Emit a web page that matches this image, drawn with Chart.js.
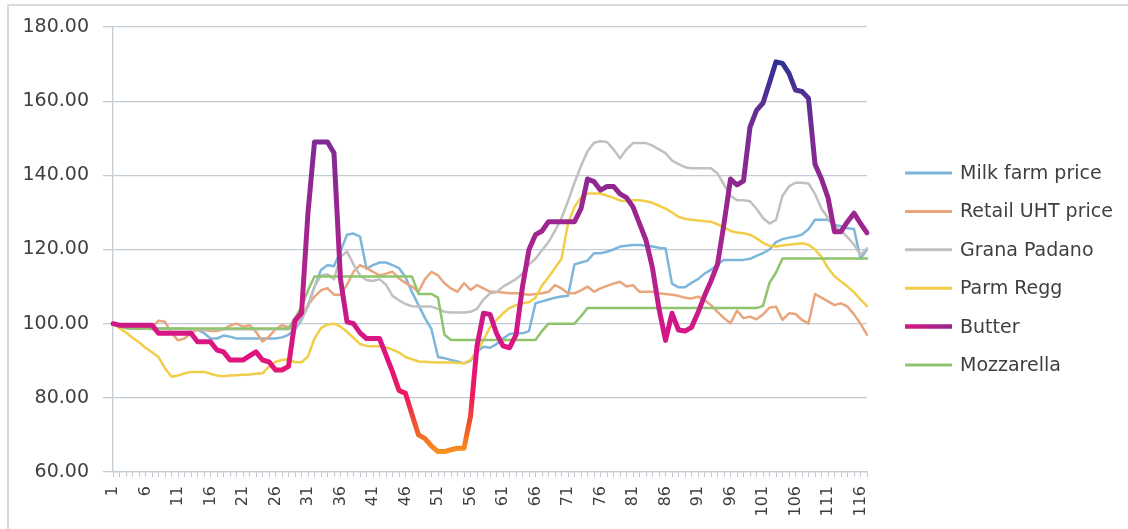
<!DOCTYPE html>
<html>
<head>
<meta charset="utf-8">
<title>Dairy price indices</title>
<script src="https://cdn.jsdelivr.net/npm/chart.js@4.4.1/dist/chart.umd.min.js"></script>
<style>
    html, body { margin: 0; padding: 0; background: #ffffff; }
    #wrap { width: 1128px; height: 529px; position: relative; }
</style>
</head>
<body>
<div id="wrap"><canvas id="priceChart" width="1128" height="529"></canvas></div>
<script>
// Monthly index values (period 1 = 100)
const periods = Array.from({ length: 117 }, (_, i) => String(i + 1));
const shownTicks = ['1', '6', '11', '16', '21', '26', '31', '36', '41', '46', '51', '56', '61', '66', '71', '76', '81', '86', '91', '96', '101', '106', '111', '116'];
const yTickValues = [60, 80, 100, 120, 140, 160, 180];

const milkFarmPrice = [
    100, 99.3, 98.8, 98.7, 98.7, 98.7, 98.7, 98.7, 98.6, 98.6,
    98.6, 98.6, 98.5, 98.3, 97.5, 96, 96, 96.8, 96.5, 96,
    96, 96, 96, 96, 96, 96, 96.3, 97, 98.5, 101,
    105, 110, 114.5, 115.8, 115.5, 119.5, 124, 124.3, 123.5, 114.8,
    115.8, 116.5, 116.5, 115.8, 115, 112.5, 108.5, 105, 101.5, 98.5,
    91, 90.7, 90.2, 89.8, 89.3, 90, 92.5, 93.8, 93.5, 94.5,
    96, 97.2, 97.4, 97.4, 98, 105.5, 106, 106.5, 107, 107.3,
    107.5, 116, 116.5, 117, 119, 119, 119.4, 120, 120.8, 121,
    121.2, 121.2, 121, 120.8, 120.5, 120.3, 110.8, 109.8, 109.8, 111,
    112, 113.5, 114.5, 116, 117.2, 117.2, 117.2, 117.2, 117.5, 118.3,
    119, 120, 122, 122.8, 123.2, 123.5, 124, 125.5, 128, 128,
    128, 126.6, 126.3, 125.7, 125.5, 117.6, 120
];

const retailUhtPrice = [
    100, 99.3, 99, 99, 99, 99, 99, 100.8, 100.5, 97.5,
    95.5, 96, 97.5, 98.3, 98.3, 98, 98, 98.5, 99.5, 100,
    99.2, 99.6, 97.8, 95.2, 96.5, 98.5, 99.6, 99, 100, 102,
    105, 107.3, 109, 109.6, 107.8, 107.8, 110.5, 114, 115.8, 115,
    114, 113, 113.5, 114, 112.2, 111, 110, 108.6, 112, 114,
    113, 110.9, 109.5, 108.6, 110.9, 109.1, 110.4, 109.5, 108.6, 108.6,
    108.4, 108.2, 108.2, 108, 107.8, 108, 108.2, 108.6, 110.4, 109.5,
    108.2, 108.2, 109, 110, 108.6, 109.5, 110.2, 110.8, 111.3, 110,
    110.4, 108.6, 108.6, 108.6, 108.2, 108, 107.8, 107.5, 107, 106.8,
    107.3, 106.4, 105, 103.2, 101.5, 100.1, 103.5, 101.5, 101.9, 101.2,
    102.5, 104.3, 104.6, 101, 102.8, 102.6, 101, 100, 108, 107,
    106, 105, 105.5, 104.6, 102.5, 100, 97
];

const granaPadano = [
    100, 99.3, 98.8, 98.7, 98.6, 98.6, 98.5, 98.5, 98.5, 98.5,
    98.5, 98.5, 98.5, 98.5, 98.5, 98.5, 98.5, 98.5, 98.5, 98.5,
    98.5, 98.5, 98.5, 98.5, 98.5, 98.5, 98.5, 98.5, 99, 101.5,
    104.5, 110, 113, 113.3, 112, 118, 119.5, 116, 113, 111.8,
    111.5, 112, 110.5, 107.5, 106.3, 105.3, 104.7, 104.6, 104.6, 104.6,
    104, 103.2, 103, 103, 103, 103.2, 104, 106.5, 108.2, 108.5,
    110, 111, 112, 113.5, 116, 117.5, 119.8, 122, 125, 128.5,
    133, 138, 142.5, 146.5, 148.8, 149.2, 149, 147, 144.6, 147,
    148.7, 148.7, 148.7, 148, 147, 146, 144, 143, 142.2, 141.9,
    141.9, 141.9, 141.9, 140.5, 137.5, 134.5, 133.3, 133.3, 133, 131,
    128.5, 127, 128, 134.5, 137, 138, 138, 137.8, 135, 131,
    128.5, 126.5, 125, 123.3, 121.3, 118.5, 120.3
];

const parmRegg = [
    100, 98.8, 97.6, 96.2, 95, 93.5, 92.3, 91, 88, 85.7,
    86, 86.6, 87, 87, 87, 86.5, 86, 85.8, 86, 86.1,
    86.2, 86.3, 86.5, 86.6, 88.4, 89.7, 90.2, 90.4, 89.6, 89.6,
    91.2, 96, 98.8, 99.8, 100, 99.2, 97.8, 96.2, 94.5, 94,
    93.9, 93.9, 93.6, 93, 92.2, 91, 90.4, 89.8, 89.7, 89.6,
    89.5, 89.5, 89.5, 89.4, 89.3, 90.2, 92.5, 95.6, 99, 101,
    102.8, 104.2, 105, 105.5, 105.8, 107, 110.3, 112.5, 115, 117.5,
    127, 131.5, 134, 135.1, 135.1, 135.1, 134.5, 134, 133.2, 133,
    133.3, 133.3, 133, 132.6, 131.8, 131, 130, 128.8, 128.3, 128,
    127.8, 127.6, 127.5, 126.8, 126, 125, 124.6, 124.4, 124, 123,
    121.8, 121, 120.8, 121.1, 121.3, 121.5, 121.7, 121.3, 120, 118,
    115, 112.8, 111.4, 110, 108.5, 106.5, 104.7
];

const butter = [
    100, 99.6, 99.6, 99.6, 99.6, 99.6, 99.6, 97.4, 97.4, 97.4,
    97.4, 97.4, 97.4, 95.1, 95.1, 95.1, 92.9, 92.4, 90.2, 90.2,
    90.2, 91.3, 92.4, 90.2, 89.7, 87.5, 87.5, 88.5, 100.9, 102.8,
    130, 149, 149, 149, 146, 112, 100.5, 100, 97.5, 96,
    96, 96, 91.5, 87, 82, 81.2, 75.5, 70, 69, 67,
    65.5, 65.5, 66, 66.4, 66.4, 75, 94, 102.8, 102.5, 97.4,
    94, 93.5, 97, 110, 120, 124, 125, 127.5, 127.5, 127.5,
    127.5, 127.5, 131, 139, 138.3, 136, 137, 137, 135, 134,
    131.5, 127, 122.5, 115, 104, 95.5, 102.8, 98.3, 98, 99,
    103, 107.5, 111.5, 116, 127, 139, 137.4, 138.5, 153, 157.5,
    159.5, 165, 170.6, 170.2, 167.5, 163, 162.6, 160.8, 143, 139,
    134, 124.8, 124.8, 127.5, 129.8, 127, 124.5
];

const mozzarella = [
    100, 99.3, 98.8, 98.7, 98.7, 98.7, 98.7, 98.7, 98.7, 98.7,
    98.7, 98.7, 98.7, 98.7, 98.7, 98.7, 98.7, 98.7, 98.7, 98.7,
    98.7, 98.7, 98.7, 98.7, 98.7, 98.7, 98.7, 98.7, 101.5, 104.5,
    109, 112.7, 112.7, 112.7, 112.7, 112.7, 112.7, 112.7, 112.7, 112.7,
    112.7, 112.7, 112.7, 112.7, 112.7, 112.7, 112.7, 108, 108, 108,
    107, 97, 95.6, 95.6, 95.6, 95.6, 95.6, 95.6, 95.6, 95.6,
    95.6, 95.6, 95.6, 95.6, 95.6, 95.6, 98, 100, 100, 100,
    100, 100, 102, 104.2, 104.2, 104.2, 104.2, 104.2, 104.2, 104.2,
    104.2, 104.2, 104.2, 104.2, 104.2, 104.2, 104.2, 104.2, 104.2, 104.2,
    104.2, 104.2, 104.2, 104.2, 104.2, 104.2, 104.2, 104.2, 104.2, 104.2,
    104.8, 111, 113.8, 117.6, 117.6, 117.6, 117.6, 117.6, 117.6, 117.6,
    117.6, 117.6, 117.6, 117.6, 117.6, 117.6, 117.6
];

const FONT = '"DejaVu Sans", "Liberation Sans", sans-serif';
const TEXT_COLOR = '#3f3f3f';
const GRID_COLOR = '#c3ccd4';

// Butter line changes colour with its level (orange at the bottom, navy at the top)
const butterShades = [
    [65, '#f7941d'], [72, '#f15a29'], [80, '#ec1c5a'], [90, '#e1147e'],
    [100, '#d01886'], [115, '#ae238d'], [135, '#92278f'], [150, '#7e2b96'],
    [160, '#592f92'], [171, '#2e3192']
];

function butterGradient(context) {
    const chart = context.chart;
    const { ctx, chartArea, scales } = chart;
    if (!chartArea || !scales.y) return '#a0268d';
    const y = scales.y;
    const g = ctx.createLinearGradient(0, y.getPixelForValue(60), 0, y.getPixelForValue(180));
    butterShades.forEach(([v, c]) => g.addColorStop((v - 60) / 120, c));
    return g;
}

// Thin frame of the original chart box (top and left edges only are visible)
const chartFrame = {
    id: 'chartFrame',
    beforeDraw(chart) {
        const ctx = chart.ctx;
        ctx.save();
        ctx.strokeStyle = '#cfcfcf';
        ctx.lineWidth = 1.5;
        ctx.beginPath();
        ctx.moveTo(8, chart.height);
        ctx.lineTo(8, 5);
        ctx.lineTo(chart.width, 5);
        ctx.stroke();
        ctx.restore();
    }
};

// Legend on the right with line swatches
const sideLegend = {
    id: 'sideLegend',
    afterDraw(chart) {
        const ctx = chart.ctx;
        ctx.save();
        ctx.font = '19px ' + FONT;
        ctx.textBaseline = 'middle';
        ctx.lineCap = 'butt';
        chart.data.datasets.forEach((ds, i) => {
            const y = 173 + i * 38.4;
            if (typeof ds.borderColor === 'function') {
                const g = ctx.createLinearGradient(905, 0, 952, 0);
                g.addColorStop(0, '#d8167f');
                g.addColorStop(1, '#93278f');
                ctx.strokeStyle = g;
                ctx.lineWidth = 4.5;
            } else {
                ctx.strokeStyle = ds.borderColor;
                ctx.lineWidth = 3;
            }
            ctx.beginPath();
            ctx.moveTo(905, y);
            ctx.lineTo(952, y);
            ctx.stroke();
            ctx.fillStyle = TEXT_COLOR;
            ctx.fillText(ds.label, 960, y + 1);
        });
        ctx.restore();
    }
};

function makeSeries(label, data, color, width, order) {
    return {
        label: label,
        data: data,
        borderColor: color,
        borderWidth: width,
        order: order,
        pointRadius: 0,
        pointHoverRadius: 0,
        tension: 0,
        fill: false,
        borderJoinStyle: 'round',
        borderCapStyle: 'round'
    };
}

document.addEventListener('DOMContentLoaded', function() {
    const ctx = document.getElementById('priceChart').getContext('2d');

    new Chart(ctx, {
        type: 'line',
        data: {
            labels: periods,
            datasets: [
                makeSeries('Milk farm price', milkFarmPrice, '#7db6db', 2.5, 6),
                makeSeries('Retail UHT price', retailUhtPrice, '#e9a67c', 2.5, 5),
                makeSeries('Grana Padano', granaPadano, '#c0c0c0', 2.5, 4),
                makeSeries('Parm Regg', parmRegg, '#f2cd48', 2.5, 3),
                makeSeries('Butter', butter, butterGradient, 5, 1),
                makeSeries('Mozzarella', mozzarella, '#8fc36c', 2.5, 2)
            ]
        },
        options: {
            responsive: false,
            animation: false,
            devicePixelRatio: 1,
            layout: {
                padding: { left: 8, top: 27, right: 261, bottom: 0 }
            },
            plugins: {
                legend: { display: false },
                tooltip: { enabled: false }
            },
            scales: {
                x: {
                    type: 'category',
                    offset: false,
                    grid: {
                        display: true,
                        drawOnChartArea: false,
                        drawTicks: true,
                        tickLength: 5,
                        color: GRID_COLOR,
                        lineWidth: 1
                    },
                    border: { display: true, color: GRID_COLOR, width: 1.3 },
                    ticks: {
                        autoSkip: false,
                        minRotation: 90,
                        maxRotation: 90,
                        padding: 9,
                        color: TEXT_COLOR,
                        font: { family: FONT, size: 16 },
                        callback: function(value, index) {
                            const label = periods[index];
                            return shownTicks.includes(label) ? label : '';
                        }
                    },
                    afterFit: function(scale) {
                        scale.height = 57;
                    }
                },
                y: {
                    min: yTickValues[0],
                    max: yTickValues[yTickValues.length - 1],
                    grid: {
                        color: GRID_COLOR,
                        lineWidth: 1.3,
                        tickLength: 10
                    },
                    border: { display: true, color: GRID_COLOR, width: 1.3 },
                    ticks: {
                        stepSize: yTickValues[1] - yTickValues[0],
                        padding: 14,
                        color: TEXT_COLOR,
                        font: { family: FONT, size: 19 },
                        callback: function(value) {
                            return value.toFixed(2);
                        }
                    },
                    afterFit: function(scale) {
                        scale.width = 105;
                    }
                }
            }
        },
        plugins: [chartFrame, sideLegend]
    });
});
</script>
</body>
</html>
